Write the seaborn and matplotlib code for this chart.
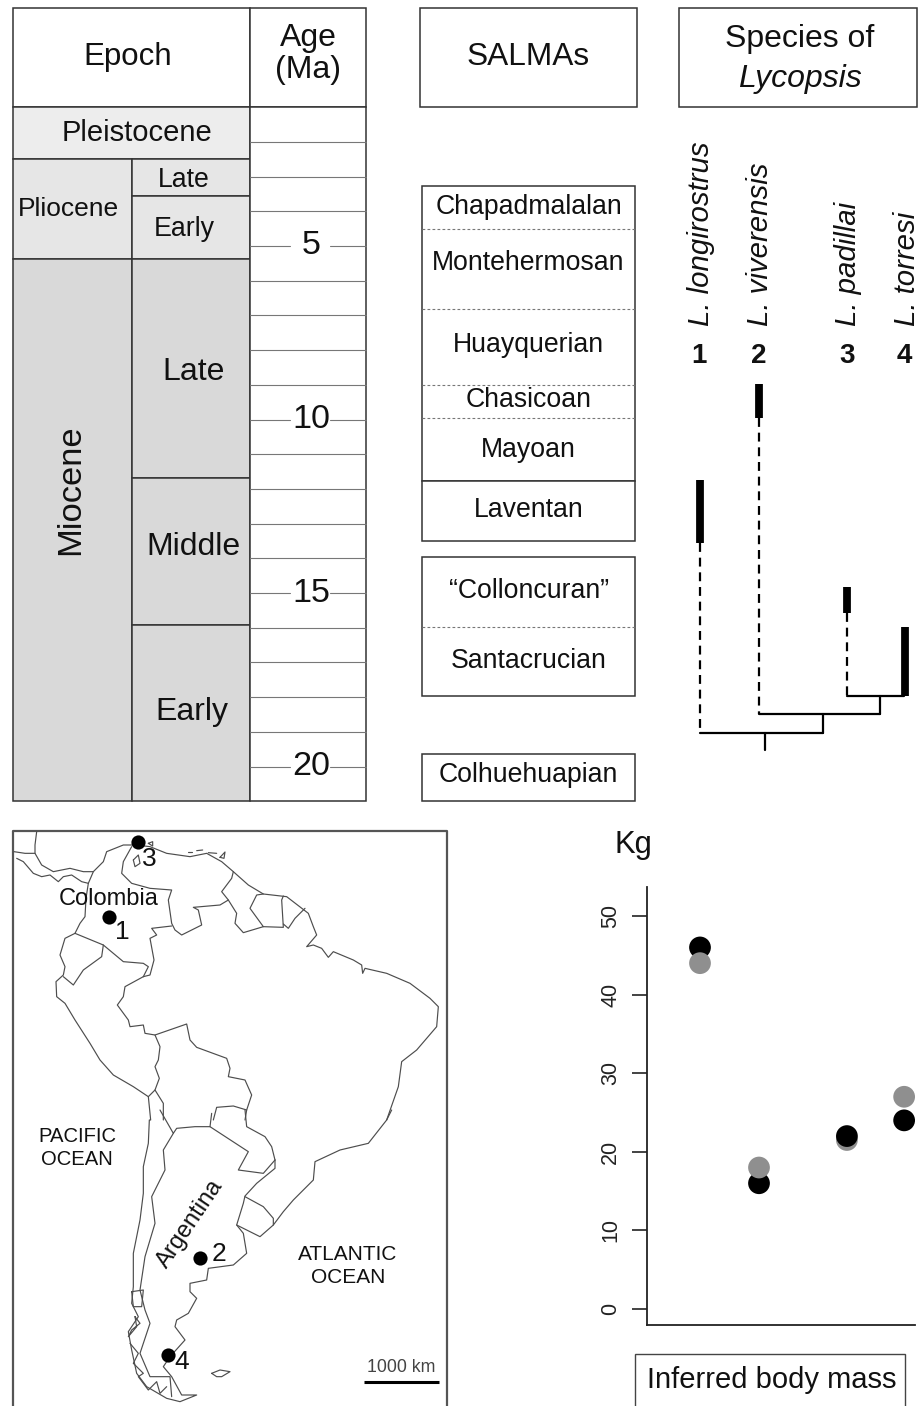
import pandas as pd
import matplotlib.pyplot as plt
import seaborn as sns

# body mass panel
species = ["L. longirostrus", "L. viverensis", "L. padillai", "L. torresi"]
species_pos = [0.0, 1.0, 2.49, 3.46]
mass_black = [46, 16, 22, 24]
mass_grey = [44, 18, 21.5, 27]

# time scale, everything in Ma
age_ticks = list(range(2, 21))
age_labels = [5, 10, 15, 20]
salma_names = ["Chapadmalalan", "Montehermosan", "Huayquerian", "Chasicoan", "Mayoan",
               "Laventan", "\u201cColloncuran\u201d", "Santacrucian", "Colhuehuapian"]
salma_mid = [3.89, 5.5, 7.86, 9.45, 10.87, 12.62, 14.95, 16.95, 20.25]
salma_blocks = [(3.27, 11.77), (11.77, 13.5), (13.96, 17.97), (19.64, 21.0)]
salma_dashed = [4.51, 6.82, 9.0, 9.96, 15.98]
range_top = [11.74, 8.98, 14.83, 15.98]
range_bottom = [13.56, 9.96, 15.58, 17.97]
ghost_end = [19.03, 18.5, 17.97]

coast_n = [(1160, 900), (1195, 800), (1205, 725), (1250, 690), (1310, 620), (1315, 560), (1290, 535),
           (1230, 490), (1160, 460), (1095, 445), (1088, 460), (1085, 435), (1060, 420), (1000, 395),
           (985, 412), (965, 385), (940, 375), (920, 380), (950, 345), (940, 320), (925, 280), (860, 230),
           (790, 222), (745, 195), (700, 155), (665, 125), (620, 100), (570, 110), (500, 100), (450, 80),
           (410, 75), (370, 75), (320, 95), (310, 125), (280, 155), (265, 190), (258, 235), (255, 290),
           (240, 310), (225, 340), (195, 355), (180, 405), (195, 440), (190, 465), (168, 485), (170, 530),
           (195, 550), (225, 600), (270, 670), (300, 720), (340, 765), (400, 800), (445, 830), (452, 900)]
coast_s = [(448, 30), (445, 100), (430, 170), (430, 250), (420, 330), (400, 430), (400, 530), (395, 580),
           (415, 620), (385, 665), (395, 720), (410, 790), (440, 830), (500, 865), (540, 875), (590, 855),
           (545, 855), (515, 800), (490, 770), (510, 740), (555, 690), (525, 650), (530, 630), (565, 610),
           (590, 565), (570, 545), (570, 520), (620, 510), (625, 475), (700, 465), (740, 430), (730, 370),
           (710, 345), (730, 280), (735, 258), (770, 220), (825, 175), (825, 150)]
coast_se = [(710, 345), (780, 380), (820, 345), (850, 305), (880, 270), (940, 210), (945, 155),
            (1020, 120), (1105, 100), (1160, 30), (1175, 0)]
central_am_n = [(42, 95), (75, 100), (105, 100), (125, 135), (160, 155), (210, 145), (250, 155), (280, 155)]
central_am_s = [(50, 115), (70, 125), (100, 160), (125, 170), (150, 165), (175, 185), (190, 170), (215, 165),
                (245, 185), (265, 190)]
guatemala = [(110, 35), (105, 75), (105, 100)]
borders_n = [
    [(395, 80), (370, 125), (365, 160), (395, 190), (450, 205), (515, 210), (505, 240), (515, 310), (525, 330),
     (545, 345), (605, 315), (595, 270), (580, 262), (660, 255), (685, 240), (665, 215), (695, 175), (700, 155)],
    [(685, 240), (710, 280), (705, 310), (730, 338), (790, 320), (750, 265), (770, 225), (790, 222)],
    [(790, 320), (850, 322), (845, 240), (850, 228)],
    [(850, 312), (865, 325), (885, 295), (915, 265)],
    [(225, 340), (310, 375), (370, 425), (430, 430), (445, 440), (430, 470)],
    [(310, 375), (305, 410), (250, 450), (220, 495), (190, 470)],
    [(515, 318), (455, 325), (470, 345), (450, 355), (462, 420), (450, 465), (430, 470)],
    [(430, 470), (375, 500), (370, 530), (352, 555), (385, 600), (390, 620), (430, 615), (435, 640), (465, 645),
     (560, 612), (570, 660), (590, 682), (680, 715), (690, 745), (685, 770), (735, 780), (755, 825), (740, 870)],
    [(465, 645), (480, 680), (475, 720), (465, 740), (478, 775), (465, 810), (445, 830)],
    [(465, 810), (490, 850), (490, 900)],
    [(640, 900), (650, 862), (700, 858), (740, 870), (735, 900)],
]
borders_s = [
    [(480, 0), (520, 70), (530, 55), (585, 50), (630, 50), (745, 125), (715, 180), (790, 190), (825, 150)],
    [(630, 50), (635, 10)],
    [(735, 0), (740, 50), (795, 80), (815, 110), (825, 150)],
    [(735, 260), (790, 290), (820, 325), (820, 345)],
    [(520, 70), (490, 120), (495, 180), (455, 260), (465, 340), (435, 440), (420, 540), (435, 600), (450, 640),
     (420, 730), (450, 800), (510, 800), (515, 860)],
    [(395, 545), (430, 540), (425, 590), (400, 590), (395, 545)],
    [(405, 620), (420, 640), (395, 660), (385, 680), (410, 650), (405, 620)],
    [(390, 700), (415, 730), (400, 760), (430, 790), (415, 800), (445, 840), (470, 815), (480, 850), (500, 830)],
    [(635, 790), (660, 780), (690, 785), (665, 800), (650, 800), (635, 790)],
]
islands_n = [[(400, 120), (415, 105), (420, 130), (405, 140), (400, 120)],
             [(445, 70), (458, 65), (458, 78), (445, 70)],
             [(660, 112), (675, 96), (672, 115), (660, 112)],
             [(590, 92), (608, 90)], [(565, 96), (575, 96)], [(625, 98), (650, 100)]]
sites = {"1": (109, 917), "2": (200, 1258), "3": (138, 842), "4": (168, 1355)}


def north(pts):
    return [(x / 3, y / 3 + 820) for x, y in pts]


def south(pts):
    return [(x / 3, y / 3 + 1110) for x, y in pts]


def age_at(py):
    return 5 + (py - 246) / 34.7


sns.set_style("white")
plt.rcParams["font.family"] = ["Liberation Sans", "DejaVu Sans"]

fig = plt.figure(figsize=(9.22, 14.06), dpi=100)
fw, fh = 922, 1406

# pixel axes for boxes and map
ax = fig.add_axes([0, 0, 1, 1])
ax.set_xlim(0, fw)
ax.set_ylim(fh, 0)
ax.axis("off")

# time axes: x in pixels, y in Ma
tm = fig.add_axes([0, 1 - 810 / fh, 1, 810 / fh])
tm.set_xlim(0, fw)
tm.set_ylim(age_at(810), age_at(0))
tm.axis("off")
tm.patch.set_alpha(0)

edge = "#333333"


def box(a, x0, x1, y0, y1, fc="white", lw=1.1, ec=edge):
    a.fill([x0, x1, x1, x0, x0], [y0, y0, y1, y1, y0], fc=fc, ec=ec, lw=lw)


# headers
box(ax, 13, 250, 8, 107)
box(ax, 250, 366, 8, 107)
box(ax, 420, 637, 8, 107)
box(ax, 679, 917, 8, 107)
ax.text(128, 57, "Epoch", fontsize=22.5, ha="center", va="center", color="#111111")
ax.text(308, 54, "Age\n(Ma)", fontsize=23, ha="center", va="center", color="#111111", linespacing=1.1)
ax.text(528, 57, "SALMAs", fontsize=22.8, ha="center", va="center", color="#111111")
ax.text(800, 39, "Species of", fontsize=23, ha="center", va="center", color="#111111")
ax.text(800, 79, "Lycopsis", fontsize=23, ha="center", va="center", style="italic", color="#111111")

# epochs
t = age_at
box(tm, 13, 250, t(107), t(159), fc="#ededed")
box(tm, 13, 132, t(159), t(259), fc="#e6e6e6")
box(tm, 132, 250, t(159), t(196), fc="#e6e6e6")
box(tm, 132, 250, t(196), t(259), fc="#e6e6e6")
box(tm, 13, 132, t(259), t(801), fc="#d9d9d9")
box(tm, 132, 250, t(259), t(478), fc="#d9d9d9")
box(tm, 132, 250, t(478), t(625), fc="#d9d9d9")
box(tm, 132, 250, t(625), t(801), fc="#d9d9d9")
tm.text(137, t(133), "Pleistocene", fontsize=21, ha="center", va="center", color="#111111")
tm.text(68, t(209), "Pliocene", fontsize=19, ha="center", va="center", color="#111111")
tm.text(184, t(180), "Late", fontsize=19.2, ha="center", va="center", color="#111111")
tm.text(184, t(229), "Early", fontsize=19.3, ha="center", va="center", color="#111111")
tm.text(71, t(490), "Miocene", fontsize=24.8, rotation=90, ha="center", va="center", color="#111111")
tm.text(194, t(372), "Late", fontsize=23, ha="center", va="center", color="#111111")
tm.text(193, t(547), "Middle", fontsize=23, ha="center", va="center", color="#111111")
tm.text(192, t(712), "Early", fontsize=23, ha="center", va="center", color="#111111")

# age column
box(tm, 250, 366, t(107), t(801))
for a in age_ticks:
    if a in age_labels:
        tm.plot([250, 290], [a, a], color="#777777", lw=0.8)
        tm.plot([330, 366], [a, a], color="#777777", lw=0.8)
        tm.text(311, a, str(a), fontsize=24.6, ha="center", va="center", color="#111111")
    else:
        tm.plot([250, 366], [a, a], color="#777777", lw=0.8)

# SALMAs
for top, bottom in salma_blocks:
    box(tm, 422, 635, top, bottom)
for a in salma_dashed:
    tm.plot([422, 635], [a, a], color="#777777", lw=0.8, ls=(0, (2.5, 2)))
for name, a in zip(salma_names, salma_mid):
    tm.text(528.5, a, name, fontsize=19.2, ha="center", va="center", color="#111111")

# species columns and tree
col_x = [700, 759, 847, 904.5]
for name, x, i in zip(species, col_x, range(1, 5)):
    ax.text(x + 1 if i != 4 else x + 2, 326, name, fontsize=21.2, rotation=90, style="italic",
            ha="center", va="bottom", color="#111111")
    ax.text(x - 1 if i == 1 else x, 356, str(i), fontsize=20, weight="bold", ha="center", va="center",
            color="#111111")
for x, top, bottom in zip(col_x, range_top, range_bottom):
    tm.plot([x, x], [top, bottom], color="black", lw=5.6, solid_capstyle="butt")
for x, start, end in zip(col_x, range_bottom, ghost_end):
    tm.plot([x, x], [start, end], color="black", lw=1.6, ls=(0, (4, 2.6)))
tree_lw = 1.6
tm.plot([847, 904], [ghost_end[2], ghost_end[2]], color="black", lw=tree_lw)
tm.plot([759, 880], [ghost_end[1], ghost_end[1]], color="black", lw=tree_lw)
tm.plot([700, 823], [ghost_end[0], ghost_end[0]], color="black", lw=tree_lw)
tm.plot([880, 880], [ghost_end[2], ghost_end[1]], color="black", lw=tree_lw)
tm.plot([823, 823], [ghost_end[1], ghost_end[0]], color="black", lw=tree_lw)
tm.plot([765, 765], [ghost_end[0], t(750)], color="black", lw=tree_lw)

# map
map_c = "#4d4d4d"
ax.plot([13, 13, 447, 447], [1406, 830.5, 830.5, 1406], color="#555555", lw=1.6)


def trace(pts, lw=0.85):
    ax.plot([p[0] for p in pts], [p[1] for p in pts], color=map_c, lw=lw, solid_joinstyle="round")


trace(north(coast_n) + south(coast_s))
trace(south(coast_se))
trace(north(central_am_n))
trace(north(central_am_s))
trace(north(guatemala))
for b in borders_n + islands_n:
    trace(north(b))
for b in borders_s:
    trace(south(b))

for x, y in sites.values():
    ax.plot(x, y, "o", color="black", ms=10.2, mew=0)
ax.text(109, 899, "Colombia", fontsize=17, ha="center", va="center", color="#111111")
ax.text(122, 932, "1", fontsize=19, ha="center", va="center", color="#111111")
ax.text(219, 1254, "2", fontsize=19, ha="center", va="center", color="#111111")
ax.text(149, 859, "3", fontsize=19, ha="center", va="center", color="#111111")
ax.text(182, 1362, "4", fontsize=19, ha="center", va="center", color="#111111")
ax.text(190, 1224, "Argentina", fontsize=17, rotation=56, ha="center", va="center", color="#111111")
ax.text(77, 1148, "PACIFIC\nOCEAN", fontsize=14.6, ha="center", va="center", color="#111111", linespacing=1.25)
ax.text(348, 1266, "ATLANTIC\nOCEAN", fontsize=15, ha="center", va="center", color="#111111", linespacing=1.25)
ax.text(401, 1368, "1000 km", fontsize=12.8, ha="center", va="center", color="#444444")
ax.plot([364, 439], [1381.5, 1381.5], color="black", lw=2.2, solid_capstyle="butt")

# body mass scatter
ax.text(633, 845, "Kg", fontsize=22.4, ha="center", va="center", color="#111111")
box(ax, 635, 905, 1354, 1412, ec="#444444", lw=1.0)
ax.text(771.5, 1380, "Inferred body mass", fontsize=21, ha="center", va="center", color="#111111")

left, right, top_px, bottom_px = 647, 915, 887, 1325
sc = fig.add_axes([left / fw, 1 - bottom_px / fh, (right - left) / fw, (bottom_px - top_px) / fh])
sc.patch.set_alpha(0)

# draw order: grey sits on top except for L. padillai
order = [("black", 0), ("black", 1), ("black", 3), ("grey", 0), ("grey", 1), ("grey", 2), ("grey", 3), ("black", 2)]
mass_df = pd.DataFrame({
    "pos": [species_pos[i] for _, i in order],
    "mass": [mass_black[i] if c == "black" else mass_grey[i] for c, i in order],
    "estimate": [c for c, _ in order],
})
sns.scatterplot(data=mass_df, x="pos", y="mass", hue="estimate",
                palette={"black": "black", "grey": "#8f8f8f"},
                s=245, linewidth=0, legend=False, ax=sc, zorder=3)
sc.set_xlim((left - 700) / 59, (right - 700) / 59)
sc.set_ylim((1309 - bottom_px) / 7.86, (1309 - top_px) / 7.86)
sc.set_xticks([])
sc.set_yticks([0, 10, 20, 30, 40, 50])
sc.set_xlabel("")
sc.set_ylabel("")
sc.tick_params(axis="y", left=True, length=10.5, width=1.2, color="#222222", labelsize=15.5,
               labelcolor="#222222", pad=8)
for lab in sc.get_yticklabels():
    lab.set_rotation(90)
    lab.set_va("center")
sns.despine(ax=sc)
for side in ["left", "bottom"]:
    sc.spines[side].set_color("#222222")
    sc.spines[side].set_linewidth(1.3)

plt.savefig("out.png", dpi=100)
